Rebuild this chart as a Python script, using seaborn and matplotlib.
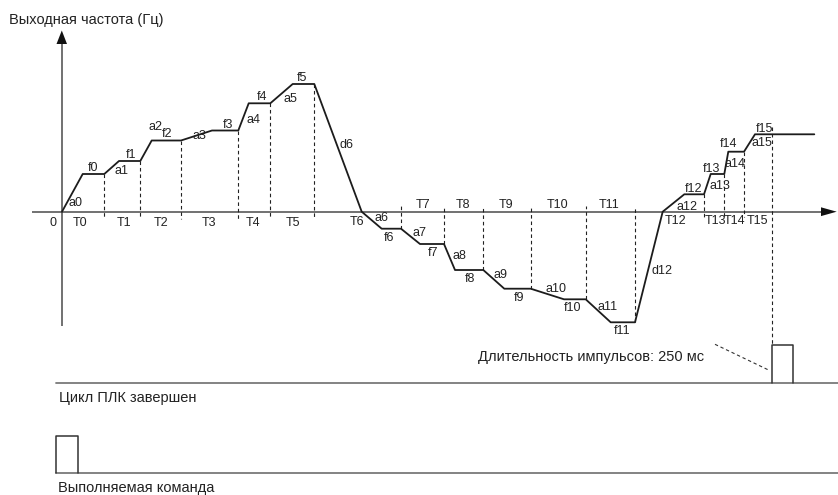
import matplotlib
matplotlib.use("Agg")
import matplotlib.pyplot as plt
import numpy as np
import pandas as pd
import seaborn as sns

sns.set_theme(style="white")
plt.rcParams["font.family"] = ["Liberation Sans", "DejaVu Sans"]

# ---- multi-step speed profile (time units, frequency units) ----
freq_levels = [37.7, 50.7, 71.2, 81.2, 108.4, 127.7, -17.0, -32.3,
               -58.3, -77.0, -87.6, -110.6, 17.4, 37.7, 60.0, 77.4]
ramp_end = [20.7, 57.0, 89.7, 150.0, 186.7, 230.7, 319.7, 358.0,
            393.0, 442.3, 502.0, 548.7, 622.3, 648.7, 666.3, 693.0]
hold_end = [42.3, 78.3, 119.0, 176.3, 208.3, 252.3, 339.0, 382.0,
            421.3, 468.7, 523.7, 573.0, 642.0, 662.3, 682.0, 752.3]
# steps that start with a pass through zero (direction reversal)
zero_cross = {6: 299.7, 12: 600.7}
# end of the last segment = PLC cycle complete
cycle_end = 709.7
pulse_width = 21.6
cmd_pulse_start = -6.0
cmd_pulse_width = 21.7

step_names = [f"f{i}" for i in range(16)]
accel_names = [f"a{i}" for i in range(16)]
decel_names = {6: "d6", 12: "d12"}
seg_names = [f"T{i}" for i in range(16)]

# build the profile polyline
t_pts, f_pts = [0.0], [0.0]
for i, (f, r, h) in enumerate(zip(freq_levels, ramp_end, hold_end)):
    if i in zero_cross:
        t_pts.append(zero_cross[i]); f_pts.append(0.0)
    t_pts += [r, h]
    f_pts += [f, f]
profile = pd.DataFrame({"t": t_pts, "f": f_pts})

# ---- canvas: data units map 1:1 onto the figure grid ----
W, H = 838, 495
OX, OY = 62.0, 211.7


def P(x, y):
    """figure grid position -> data coordinates"""
    return x - OX, OY - y


fig = plt.figure(figsize=(W / 100, H / 100), dpi=100)
ax = fig.add_axes([0, 0, 1, 1])
ax.set_xlim(-OX, W - OX)
ax.set_ylim(OY - H, OY)
ax.set_axis_off()

axis_c = "#4a4a4a"
line_c = "#1c1c1c"
text_c = "#222222"
trace_c = "#7a7a7a"

# axes with arrow heads
x0, _ = P(32, 0); x1, _ = P(821, 0)
ax.plot([x0, x1], [0, 0], color=axis_c, lw=1.1, solid_capstyle="butt")
tri_x = [P(821, 207.3), P(836.7, 211.7), P(821, 216.1)]
ax.fill([p[0] for p in tri_x], [p[1] for p in tri_x], color="#111111", lw=0)
_, yb = P(0, 326); _, yt = P(0, 44)
ax.plot([0, 0], [yb, yt], color=axis_c, lw=1.1, solid_capstyle="butt")
tri_y = [P(56.5, 44), P(61.8, 30.5), P(67, 44)]
ax.fill([p[0] for p in tri_y], [p[1] for p in tri_y], color="#111111", lw=0)

# dashed segment boundaries
dash_kw = dict(color="#222222", lw=0.8, linestyle=(0, (3.2, 2.6)))
for i, h in enumerate(hold_end[:15]):
    f = freq_levels[i]
    end = 6.0 if f < 0 else (-5.0 if i >= 12 else -7.5)
    ax.plot([h, h], [f, end], **dash_kw)
_, y_top = P(0, 126.5); _, y_pulse = P(0, 345)
ax.plot([cycle_end, cycle_end], [y_top, y_pulse], **dash_kw)

# profile
sns.lineplot(data=profile, x="t", y="f", sort=False, estimator=None,
             color=line_c, lw=1.3, ax=ax)

# ---- labels ----
small = dict(fontsize=9, color=text_c, ha="center", va="center")
ax.text(*P(52.7, 222.7), "0", **small)

seg_pos = [(80, 222.7), (124, 222.7), (161, 222.7), (209, 222.7), (253, 222.7),
           (293, 222.7), (357, 221.7), (422.7, 205.3), (463.3, 205.3), (506, 205.3),
           (557.3, 205.3), (609.3, 205.3), (676, 221), (715, 221), (735, 221),
           (757.7, 221)]
freq_pos = [(92.7, 168.3), (131, 155.3), (166.7, 134), (228.3, 125), (262.3, 97.3),
            (301.7, 78.3), (389.3, 237.7), (432.7, 253.3), (470, 279), (519, 298.3),
            (572.7, 308.3), (622.3, 330.7), (694, 189), (711.7, 169), (728.3, 144.3),
            (764, 129)]
accel_pos = [(75.7, 202.5), (121.7, 170.8), (155.7, 126.7), (199.3, 136), (253.7, 120),
             (290.7, 99.3), (381.7, 218.3), (419.3, 232.7), (459.3, 255.7), (500, 275),
             (556, 289), (607.7, 306.7), (686.7, 206.7), (720, 186), (735, 164),
             (761.7, 143.3)]
decel_pos = {6: (346, 145), 12: (661.7, 270.7)}

for name, (x, y) in zip(seg_names, seg_pos):
    ax.text(*P(x, y), name, **small)
for name, (x, y) in zip(step_names, freq_pos):
    ax.text(*P(x, y), name, **small)
for name, (x, y) in zip(accel_names, accel_pos):
    ax.text(*P(x, y), name, **small)
for k, name in decel_names.items():
    ax.text(*P(*decel_pos[k]), name, **small)

big = dict(fontsize=10.5, color=text_c, va="center")
ax.text(*P(9, 20), "Выходная частота (Гц)", ha="left", **big)

# ---- PLC signals ----
_, base_done = P(0, 383.3)
_, base_cmd = P(0, 473.3)
_, top_done = P(0, 345)
_, top_cmd = P(0, 435.7)
xl, _ = P(56, 0); xr, _ = P(W, 0)

done = pd.DataFrame({
    "t": [cycle_end, cycle_end, cycle_end + pulse_width, cycle_end + pulse_width],
    "v": [base_done, top_done, top_done, base_done]})
cmd = pd.DataFrame({
    "t": [cmd_pulse_start, cmd_pulse_start, cmd_pulse_start + cmd_pulse_width,
          cmd_pulse_start + cmd_pulse_width],
    "v": [base_cmd, top_cmd, top_cmd, base_cmd]})
ax.plot([xl, xr], [base_done, base_done], color=trace_c, lw=1.3)
ax.plot([xl, xr], [base_cmd, base_cmd], color=trace_c, lw=1.3)
sns.lineplot(data=done, x="t", y="v", sort=False, estimator=None,
             color="#333333", lw=1.1, ax=ax)
sns.lineplot(data=cmd, x="t", y="v", sort=False, estimator=None,
             color="#333333", lw=1.1, ax=ax)

ax.plot(*zip(P(715, 344.3), P(770, 370.7)), color="#333333", lw=0.8,
        linestyle=(0, (3, 2.5)))
ax.text(*P(591, 357.3), "Длительность импульсов: 250 мс", ha="center", **big)
ax.text(*P(59.3, 398.3), "Цикл ПЛК завершен", ha="left", **big)
ax.text(*P(58, 488.3), "Выполняемая команда", ha="left", **big)

ax.set_xlabel("")
ax.set_ylabel("")
fig.savefig("out.png", dpi=100)
